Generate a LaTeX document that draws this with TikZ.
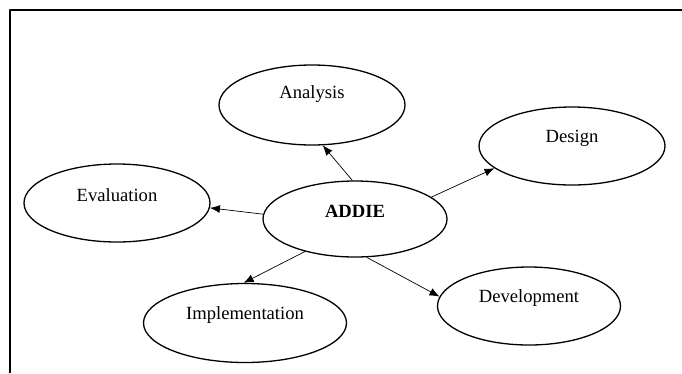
\documentclass[tikz,border=0pt]{standalone}
\usepackage{fontspec}
\setmainfont{Liberation Serif}
\usetikzlibrary{arrows.meta,shapes.geometric}

\tikzset{
  phase/.style={draw,ellipse,line width=1.3pt,inner sep=0pt,
    minimum width=186pt,minimum height=78pt},
  phasetext/.style={font=\fontsize{18.6}{22}\selectfont,yshift=8pt},
  link/.style={-{Latex[length=10pt,width=8pt]},line width=0.7pt}
}

\begin{document}
\begin{tikzpicture}[x=1pt,y=-1pt,line join=round]
  \useasboundingbox (0,0) rectangle (682,373);
  % ---- frame (top and left only) ----------------------------------------
  \draw[line width=2pt] (682,10) -- (10,10) -- (10,373);

  % ---- phases -------------------------------------------------------------
  \node[phase,minimum height=80pt,label={[phasetext,yshift=3pt]center:Analysis}]
    (ana) at (312,105) {};
  \node[phase,label={[phasetext]center:Design}] (des) at (572,146) {};
  \node[phase,label={[phasetext]center:Evaluation}] (eva) at (117,203) {};
  \node[phase,minimum width=184pt,minimum height=76pt,
    label={[phasetext]center:\textbf{ADDIE}}] (addie) at (355,219) {};
  \node[phase,minimum width=183pt,label={[phasetext]center:Development}]
    (dev) at (529,306) {};
  \node[phase,minimum width=203pt,minimum height=79pt,
    label={[phasetext]center:Implementation}] (imp) at (245,323) {};

  % ---- connectors ---------------------------------------------------------
  \draw[link] (addie.94) -- (ana.-75);
  \draw[link] (addie.16) -- (des.-164);
  \draw[link] (addie.177) -- (eva.-3);
  \draw[link] (addie.213) -- (imp.92);
  \draw[link] (addie.-73) -- (dev.174);
\end{tikzpicture}
\end{document}
